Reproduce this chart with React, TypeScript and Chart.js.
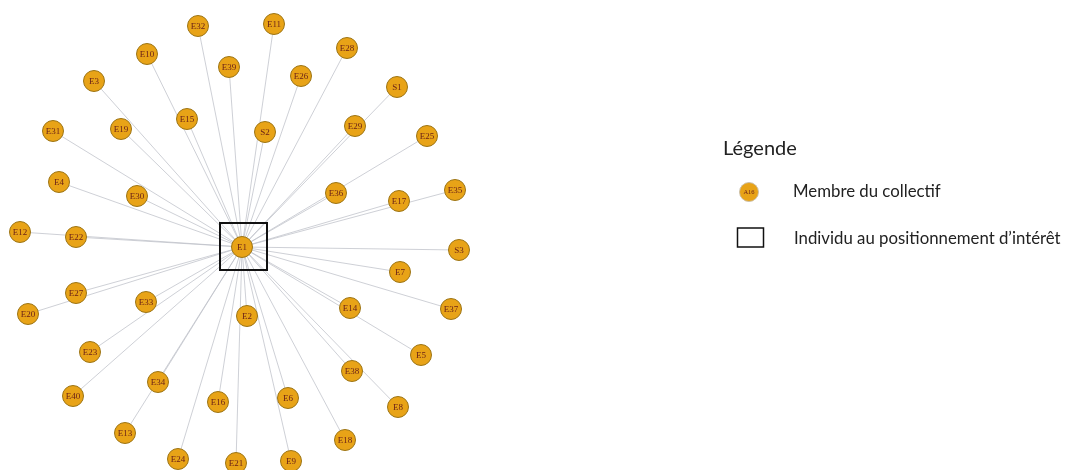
import React, { useEffect, useRef } from "react";
import { Chart, registerables } from "chart.js";

Chart.register(...registerables);

// Network nodes (layout positions)
const centerNode = "E1";
const centerX = 242;
const centerY = 247;

const nodeNames = [
  "E32", "E10", "E39", "E3", "E15", "E31", "E19", "E4", "E30", "E12", "E22",
  "E11", "E28", "E26", "S1", "S2", "E29", "E25", "E36", "E17", "E35",
  "E27", "E20", "E33", "E2", "E23", "E34", "E40", "E16", "E13", "E24", "E21",
  "S3", "E7", "E14", "E37", "E5", "E38", "E6", "E8", "E18", "E9",
];
const nodeX = [
  198, 147, 229, 94, 187, 53, 121, 59, 137, 20, 76,
  274, 347, 301, 397, 265, 355, 427, 336, 399, 455,
  76, 28, 146, 247, 90, 158, 73, 218, 125, 178, 236,
  459, 400, 350, 451, 421, 352, 288, 398, 345, 291,
];
const nodeY = [
  26, 54, 67, 81, 119, 131, 129, 182, 196, 232, 237,
  24, 48, 76, 87, 132, 126, 136, 193, 201, 190,
  293, 314, 302, 316, 352, 382, 396, 402, 433, 459, 463,
  250, 272, 308, 309, 355, 371, 398, 407, 440, 461,
];

const legendTitle = "Légende";
const legendItems = ["Membre du collectif", "Individu au positionnement d’intérêt"];
const legendSampleLabel = "A16";

const NODE_FILL = "#E8A317";
const NODE_BORDER = "#9C7414";
const LABEL_COLOR = "#6B2218";
const EDGE_COLOR = "rgba(190,192,200,0.75)";

const W = 1065;
const H = 470;

export default function App() {
  const ref = useRef<HTMLCanvasElement>(null);

  useEffect(() => {
    document.body.style.margin = "0";
    const canvas = ref.current;
    if (!canvas) return;

    const edgeDatasets = nodeNames.map((n, i) => ({
      type: "scatter" as const,
      label: "edge-" + n,
      data: [
        { x: centerX, y: centerY },
        { x: nodeX[i], y: nodeY[i] },
      ],
      showLine: true,
      borderColor: EDGE_COLOR,
      borderWidth: 1,
      pointRadius: 0,
      order: 2,
    }));

    const allNames = [...nodeNames, centerNode];
    const allX = [...nodeX, centerX];
    const allY = [...nodeY, centerY];

    const nodeDataset = {
      type: "scatter" as const,
      label: "nodes",
      data: allX.map((x, i) => ({ x, y: allY[i] })),
      pointRadius: 10.5,
      pointBackgroundColor: NODE_FILL,
      pointBorderColor: NODE_BORDER,
      pointBorderWidth: 1,
      order: 1,
    };

    const labelPlugin = {
      id: "nodeLabels",
      afterDatasetsDraw(chart: any) {
        const ctx = chart.ctx;
        const xs = chart.scales.x;
        const ys = chart.scales.y;
        ctx.save();
        ctx.fillStyle = LABEL_COLOR;
        ctx.font = "9px 'Liberation Serif', 'DejaVu Serif', serif";
        ctx.textAlign = "center";
        ctx.textBaseline = "middle";
        allNames.forEach((n, i) => {
          ctx.fillText(n, xs.getPixelForValue(allX[i]), ys.getPixelForValue(allY[i]) + 0.5);
        });
        // highlight box around the individual of interest
        const cx = xs.getPixelForValue(centerX);
        const cy = ys.getPixelForValue(centerY);
        ctx.strokeStyle = "#111";
        ctx.lineWidth = 2;
        ctx.strokeRect(cx - 22, cy - 24, 47, 47);

        // legend
        ctx.textAlign = "left";
        ctx.fillStyle = "#222";
        ctx.font = "20px Lato, 'Open Sans', sans-serif";
        ctx.fillText(legendTitle, 723, 149);
        // sample node
        ctx.beginPath();
        ctx.arc(749, 192, 9.5, 0, Math.PI * 2);
        ctx.fillStyle = NODE_FILL;
        ctx.fill();
        ctx.strokeStyle = "rgba(200,190,170,0.9)";
        ctx.lineWidth = 1;
        ctx.stroke();
        ctx.fillStyle = LABEL_COLOR;
        ctx.textAlign = "center";
        ctx.font = "6.5px 'Liberation Serif', serif";
        ctx.fillText(legendSampleLabel, 749, 192.5);
        ctx.textAlign = "left";
        ctx.fillStyle = "#222";
        ctx.font = "16.8px Lato, 'Open Sans', sans-serif";
        ctx.fillText(legendItems[0], 793, 192);
        ctx.strokeStyle = "#111";
        ctx.lineWidth = 1.5;
        ctx.strokeRect(737.5, 228, 26, 19);
        ctx.fillText(legendItems[1], 794, 239);
        ctx.restore();
      },
    };

    const chart = new Chart(canvas, {
      type: "scatter",
      data: { datasets: [...edgeDatasets, nodeDataset] as any },
      options: {
        animation: false,
        responsive: false,
        maintainAspectRatio: false,
        layout: { padding: 0, autoPadding: false },
        plugins: {
          legend: { display: false },
          tooltip: { enabled: false },
        },
        scales: {
          x: { type: "linear", min: 0, max: W, display: false },
          y: { type: "linear", min: 0, max: H, reverse: true, display: false },
        },
      },
      plugins: [labelPlugin],
    });
    return () => chart.destroy();
  }, []);

  return (
    <div style={{ width: W, height: H, background: "#fff" }}>
      <canvas ref={ref} width={W} height={H} style={{ display: "block" }} />
    </div>
  );
}
